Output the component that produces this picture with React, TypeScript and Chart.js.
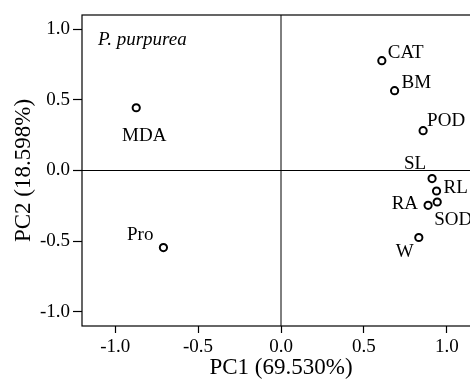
import React, { useEffect, useRef } from "react";
import { Chart, registerables } from "chart.js";

Chart.register(...registerables);

const variables = ["MDA", "CAT", "BM", "POD", "SL", "RL", "SOD", "RA", "W", "Pro"];
const pc1 = [-0.873, 0.608, 0.685, 0.857, 0.911, 0.938, 0.942, 0.887, 0.831, -0.709];
const pc2 = [0.444, 0.777, 0.565, 0.282, -0.057, -0.145, -0.223, -0.246, -0.474, -0.545];
const xTicks = [-1.0, -0.5, 0.0, 0.5, 1.0];
const yTicks = [-1.0, -0.5, 0.0, 0.5, 1.0];
const xTitle = "PC1 (69.530%)";
const yTitle = "PC2 (18.598%)";
const speciesLabel = "P. purpurea";

// label placement (style only): [dx, dy, align]
const labelPlacement: Record<string, [number, number, CanvasTextAlign]> = {
  MDA: [8, 28, "center"],
  CAT: [6, -8, "left"],
  BM: [7, -8, "left"],
  POD: [4, -10, "left"],
  SL: [-6, -15, "right"],
  RL: [7, -3, "left"],
  SOD: [-3, 18, "left"],
  RA: [-10, -1, "right"],
  W: [-14, 15, "center"],
  Pro: [-10, -13, "right"],
};

const FONT = "'Liberation Serif', 'Times New Roman', serif";

export default function App() {
  const ref = useRef<HTMLCanvasElement>(null);
  useEffect(() => {
    document.documentElement.style.overflow = "hidden";
    document.body.style.marginRight = "0px";
    const root = document.getElementById("root");
    if (root) root.style.overflow = "hidden";
    const canvas = ref.current!;
    const decor = {
      id: "decor",
      afterDatasetsDraw(chart: any) {
        const { ctx, chartArea: a, scales } = chart;
        ctx.save();
        ctx.strokeStyle = "#000";
        ctx.lineWidth = 1.2;
        ctx.strokeRect(a.left, a.top, a.right - a.left, a.bottom - a.top);
        const x0 = scales.x.getPixelForValue(0);
        const y0 = scales.y.getPixelForValue(0);
        ctx.lineWidth = 1;
        ctx.beginPath();
        ctx.moveTo(x0, a.top);
        ctx.lineTo(x0, a.bottom);
        ctx.moveTo(a.left, y0);
        ctx.lineTo(a.right, y0);
        ctx.stroke();
        ctx.fillStyle = "#000";
        ctx.font = `19px ${FONT}`;
        ctx.textBaseline = "middle";
        const meta = chart.getDatasetMeta(0);
        variables.forEach((name, i) => {
          const el = meta.data[i];
          const [dx, dy, al] = labelPlacement[name];
          ctx.textAlign = al;
          ctx.fillText(name, el.x + dx, el.y + dy);
        });
        ctx.font = `italic 19px ${FONT}`;
        ctx.textAlign = "left";
        ctx.fillText(speciesLabel, a.left + 16, a.top + 25);
        ctx.restore();
      },
    };
    const chart = new Chart(canvas, {
      type: "scatter",
      data: {
        datasets: [
          {
            data: pc1.map((x, i) => ({ x, y: pc2[i] })),
            pointRadius: 3.6,
            pointBorderWidth: 2,
            pointBorderColor: "#000",
            pointBackgroundColor: "#fff",
          },
        ],
      },
      options: {
        responsive: false,
        animation: false,
        events: [],
        layout: { padding: { top: 7, right: 8, left: 0, bottom: 0 } },
        plugins: { legend: { display: false }, tooltip: { enabled: false } },
        scales: {
          x: {
            type: "linear",
            min: -1.2,
            max: 1.2,
            afterBuildTicks: (s: any) => {
              s.ticks = xTicks.map((v) => ({ value: v }));
            },
            afterFit: (s: any) => {
              s.height = 55;
              s.paddingLeft = 0;
              s.paddingRight = 0;
            },
            grid: { drawOnChartArea: false, tickLength: 7, tickColor: "#000", tickWidth: 1.2 },
            border: { display: false },
            ticks: {
              padding: 3,
              color: "#000",
              font: { family: FONT, size: 19 },
              maxRotation: 0,
              autoSkip: false,
              callback: (v: any) => Number(v).toFixed(1),
            },
            title: {
              display: true,
              text: xTitle,
              color: "#000",
              font: { family: FONT, size: 23, lineHeight: 1 },
              padding: { top: 0, bottom: 1.5 },
            },
          },
          y: {
            type: "linear",
            min: -1.1,
            max: 1.1,
            afterBuildTicks: (s: any) => {
              s.ticks = yTicks.map((v) => ({ value: v }));
            },
            afterFit: (s: any) => {
              s.width = 74;
              s.paddingTop = 0;
              s.paddingBottom = 0;
            },
            grid: { drawOnChartArea: false, tickLength: 9, tickColor: "#000", tickWidth: 1.2 },
            border: { display: false },
            ticks: {
              padding: 3,
              color: "#000",
              font: { family: FONT, size: 19 },
              autoSkip: false,
              callback: (v: any) => Number(v).toFixed(1),
            },
            title: {
              display: true,
              text: yTitle,
              color: "#000",
              font: { family: FONT, size: 23, lineHeight: 1 },
              padding: { top: 4, bottom: 0 },
            },
          },
        },
      },
      plugins: [decor],
    });
    return () => chart.destroy();
  }, []);
  return (
    <canvas
      ref={ref}
      width={480}
      height={373}
      style={{ display: "block", width: 480, height: 373 }}
    />
  );
}
